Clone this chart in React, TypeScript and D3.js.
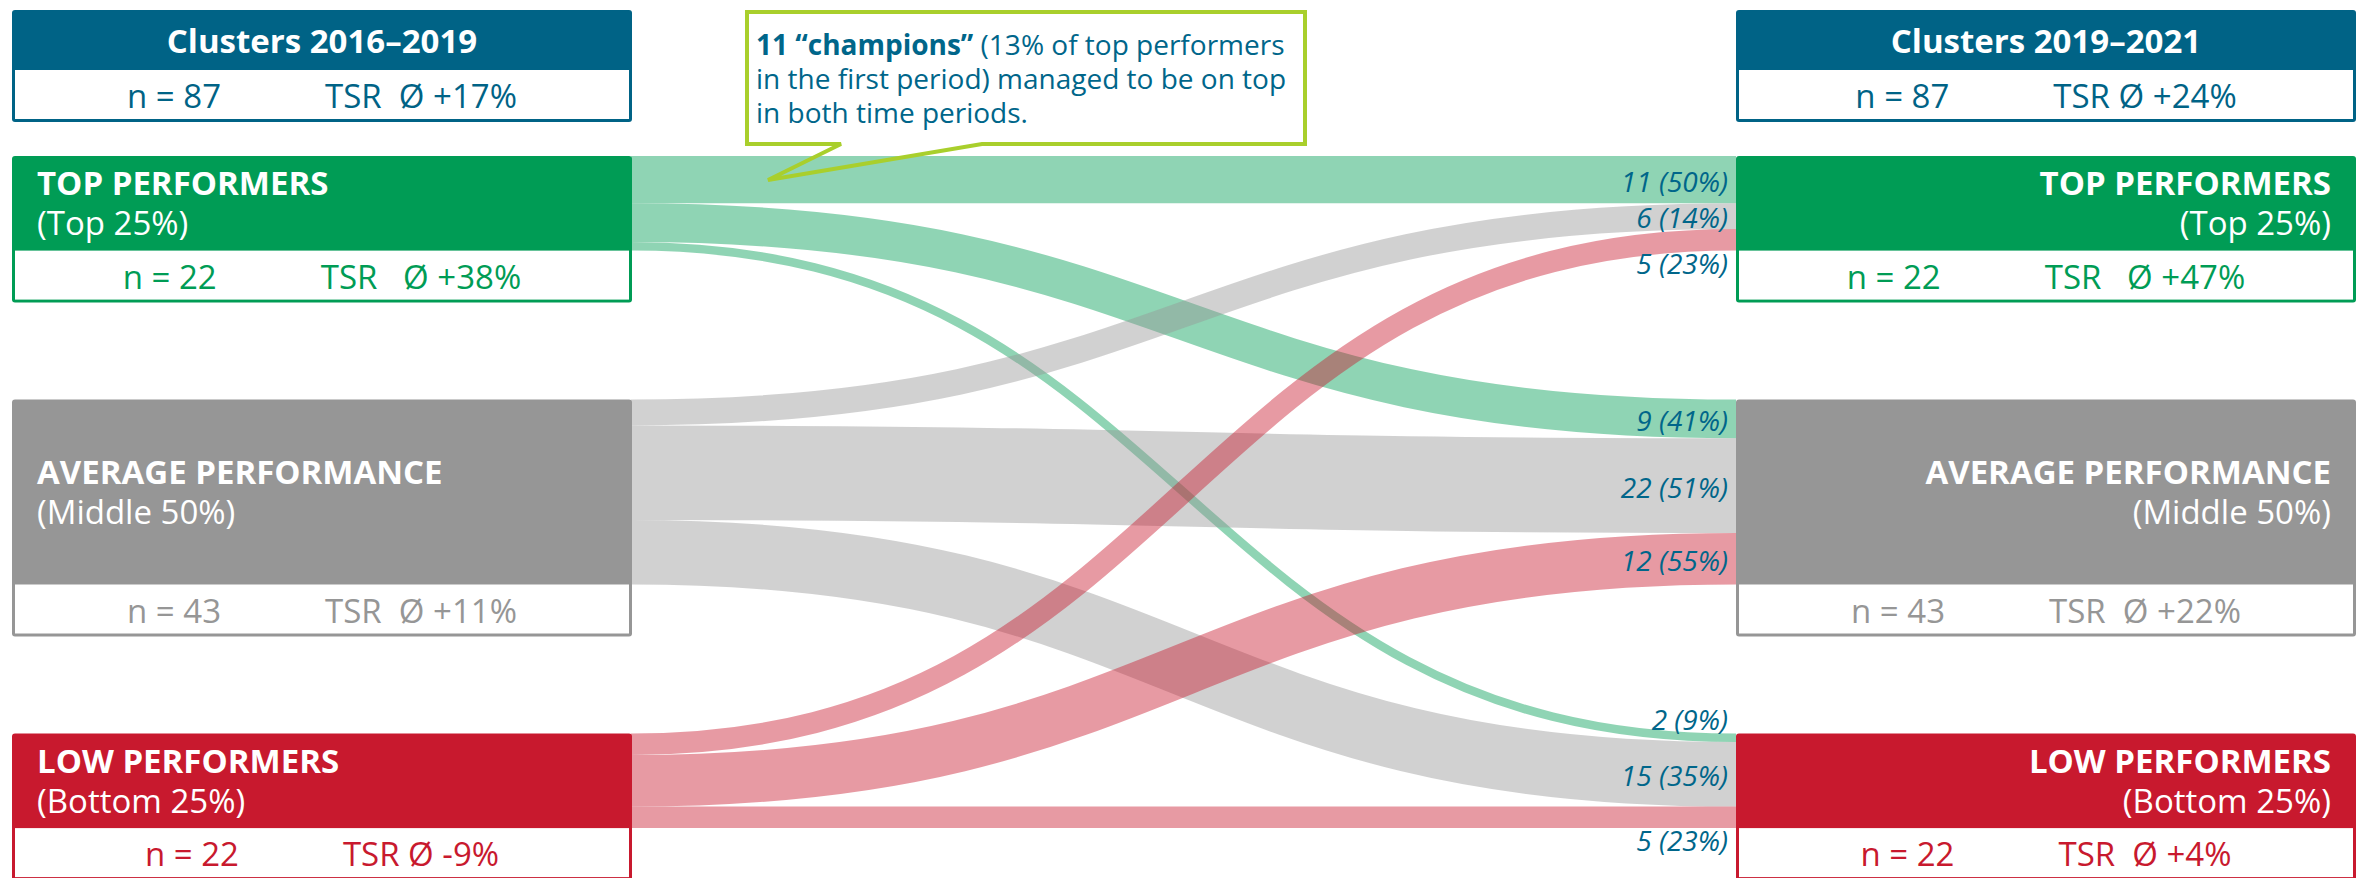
import React from "react";
import * as d3 from "d3";

// ---------- data ----------
const periodTitles = ["Clusters 2016–2019", "Clusters 2019–2021"];
const periodN = [87, 87];
const periodTSR = ["TSR  Ø +17%", "TSR Ø +24%"];

const clusterNames = ["TOP PERFORMERS", "AVERAGE PERFORMANCE", "LOW PERFORMERS"];
const clusterSubs = ["(Top 25%)", "(Middle 50%)", "(Bottom 25%)"];
const clusterN = [22, 43, 22];
const tsrFirst = ["TSR   Ø +38%", "TSR  Ø +11%", "TSR Ø -9%"];
const tsrSecond = ["TSR   Ø +47%", "TSR  Ø +22%", "TSR  Ø +4%"];

const flowSource = [0, 0, 0, 1, 1, 1, 2, 2, 2];
const flowTarget = [0, 1, 2, 0, 1, 2, 0, 1, 2];
const flowValue = [11, 9, 2, 6, 22, 15, 5, 12, 5];
const flowShare = ["50%", "41%", "9%", "14%", "51%", "35%", "23%", "55%", "23%"];

const calloutBold = "11 “champions”";
const calloutLines = [
  " (13% of top performers",
  "in the first period) managed to be on top",
  "in both time periods.",
];

// ---------- style ----------
const FONT = "'Open Sans', 'Noto Sans', sans-serif";
const clusterColors = ["#009c55", "#969696", "#c8192e"];
const headerColor = "#006386";
const textBlue = "#00668a";
const calloutColor = "#a9cf2c";

const W = 2368;
const H = 878;
const colLeft = [12, 1736];
const colWidth = 620;
const headerTop = 10;
const headerBand = 60;
const subH = 52;
const nodeTop = 156;
const nodeGap = 149;
const border = 3;

export default function App() {
  const total = d3.sum(clusterN);
  const k = d3.scaleLinear().domain([0, total]).range([0, total * 4.3]);

  // node layout
  const nodeY0: number[] = [];
  let acc = nodeTop;
  clusterN.forEach((n) => {
    nodeY0.push(acc);
    acc += k(n) + nodeGap;
  });
  const nodeH = clusterN.map((n) => k(n));

  const srcX = colLeft[0] + colWidth - 1;
  const tgtX = colLeft[1];

  // link layout
  const srcOff = clusterN.map(() => 0);
  const tgtOff = clusterN.map(() => 0);
  const idx = flowValue.map((_, i) => i);
  const links = idx.map((i) => ({
    i,
    s: flowSource[i],
    t: flowTarget[i],
    v: flowValue[i],
    w: k(flowValue[i]),
    sy: 0,
    ty: 0,
  }));
  [...links]
    .sort((a, b) => a.s - b.s || a.t - b.t)
    .forEach((l) => {
      l.sy = nodeY0[l.s] + srcOff[l.s] + l.w / 2;
      srcOff[l.s] += l.w;
    });
  [...links]
    .sort((a, b) => a.t - b.t || a.s - b.s)
    .forEach((l) => {
      l.ty = nodeY0[l.t] + tgtOff[l.t] + l.w / 2;
      tgtOff[l.t] += l.w;
    });

  const linkGen = d3
    .linkHorizontal<any, [number, number]>()
    .source((d: any) => d[0])
    .target((d: any) => d[1]);

  // label placement
  const labelH = 24;
  const labels = links.map((l) => {
    const top = l.ty - l.w / 2;
    const bottom = l.ty + l.w / 2;
    let y = l.ty + 12;
    if (l.w < labelH) {
      const sameTarget = links.filter((m) => m.t === l.t);
      const isFirst = sameTarget.every((m) => m.ty >= l.ty);
      y = isFirst ? top - 4 : bottom + 23;
    }
    return { x: tgtX - 8, y, text: `${l.v} (${flowShare[l.i]})` };
  });

  const statLine = (
    cx: number,
    y: number,
    n: number,
    tsr: string,
    color: string
  ) => (
    <text
      x={cx}
      y={y}
      textAnchor="middle"
      fontSize={33}
      fill={color}
      style={{ whiteSpace: "pre" }}
    >
      <tspan>{`n = ${n}`}</tspan>
      <tspan dx={104}>{tsr}</tspan>
    </text>
  );

  const box = (
    x: number,
    y: number,
    bandH: number,
    color: string,
    key: string
  ) => (
    <g key={key}>
      <rect x={x} y={y} width={colWidth} height={bandH + subH} rx={3} fill={color} />
      <rect
        x={x + border}
        y={y + bandH}
        width={colWidth - 2 * border}
        height={subH - border}
        fill="#fff"
      />
    </g>
  );

  // callout geometry
  const cb = { x0: 747, x1: 1305, y0: 12, y1: 144 };
  const tail = { a: 841, b: 982, tipX: 768, tipY: 180 };
  const calloutPath = d3.path();
  calloutPath.moveTo(cb.x0, cb.y0);
  calloutPath.lineTo(cb.x1, cb.y0);
  calloutPath.lineTo(cb.x1, cb.y1);
  calloutPath.lineTo(tail.b, cb.y1);
  calloutPath.lineTo(tail.tipX, tail.tipY);
  calloutPath.lineTo(tail.a, cb.y1);
  calloutPath.lineTo(cb.x0, cb.y1);
  calloutPath.closePath();

  return (
    <svg
      width={W}
      height={H}
      viewBox={`0 0 ${W} ${H}`}
      style={{ position: "absolute", left: 0, top: 0, background: "#fff" }}
      fontFamily={FONT}
    >
      <rect width={W} height={H} fill="#fff" />

      {/* links */}
      <g fill="none">
        {links.map((l) => (
          <path
            key={l.i}
            d={linkGen([[srcX, l.sy], [tgtX, l.ty]] as any) || ""}
            stroke={clusterColors[l.s]}
            strokeOpacity={0.44}
            strokeWidth={l.w}
          />
        ))}
      </g>

      {/* headers */}
      {periodTitles.map((t, p) => {
        const x = colLeft[p];
        const cx = x + colWidth / 2;
        return (
          <g key={t}>
            {box(x, headerTop, headerBand, headerColor, "hb" + p)}
            <text
              x={cx}
              y={headerTop + headerBand / 2 + 13}
              textAnchor="middle"
              fontSize={33}
              fontWeight={700}
              fill="#fff"
            >
              {t}
            </text>
            {statLine(cx, headerTop + headerBand + subH / 2 + 12, periodN[p], periodTSR[p], headerColor)}
          </g>
        );
      })}

      {/* cluster boxes */}
      {[0, 1].map((p) =>
        clusterNames.map((name, c) => {
          const x = colLeft[p];
          const y = nodeY0[c];
          const h = nodeH[c];
          const mid = y + h / 2;
          const anchor = p === 0 ? "start" : "end";
          const tx = p === 0 ? x + 25 : x + colWidth - 25;
          return (
            <g key={`${p}-${c}`}>
              {box(x, y, h, clusterColors[c], `b${p}${c}`)}
              <text x={tx} y={mid - 8} textAnchor={anchor} fontSize={33} fontWeight={700} fill="#fff">
                {name}
              </text>
              <text x={tx} y={mid + 32} textAnchor={anchor} fontSize={33} fill="#fff">
                {clusterSubs[c]}
              </text>
              {statLine(
                x + colWidth / 2,
                y + h + subH / 2 + 12,
                clusterN[c],
                p === 0 ? tsrFirst[c] : tsrSecond[c],
                clusterColors[c]
              )}
            </g>
          );
        })
      )}

      {/* link labels */}
      {labels.map((lb, i) => (
        <text
          key={i}
          x={lb.x}
          y={lb.y}
          textAnchor="end"
          fontSize={28}
          fontStyle="italic"
          fill={textBlue}
        >
          {lb.text}
        </text>
      ))}

      {/* callout */}
      <rect x={cb.x0} y={cb.y0} width={cb.x1 - cb.x0} height={cb.y1 - cb.y0} fill="#fff" />
      <path
        d={calloutPath.toString()}
        fill="none"
        stroke={calloutColor}
        strokeWidth={4}
        strokeLinejoin="miter"
      />
      <text x={756} y={55} fontSize={28} fill={textBlue} style={{ whiteSpace: "pre" }}>
        <tspan fontWeight={700}>{calloutBold}</tspan>
        <tspan>{calloutLines[0]}</tspan>
      </text>
      {calloutLines.slice(1).map((line, i) => (
        <text key={i} x={756} y={89 + i * 34} fontSize={28} fill={textBlue}>
          {line}
        </text>
      ))}
    </svg>
  );
}
